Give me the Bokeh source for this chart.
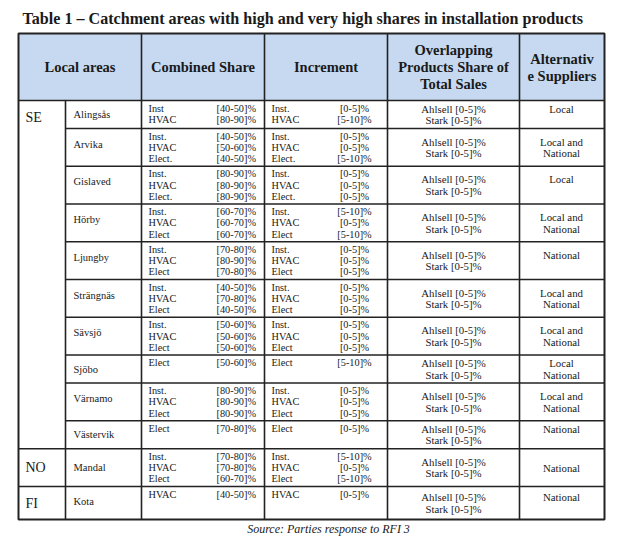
from bokeh.plotting import figure
from bokeh.models import ColumnDataSource, Range1d
from bokeh.embed import file_html
from bokeh.resources import INLINE
from bokeh.core.properties import value

# ---------------- data ----------------
title = "Table 1 – Catchment areas with high and very high shares in installation products"
source_note = "Source: Parties response to RFI 3"
headers = ["Local areas", "Combined Share", "Increment",
           "Overlapping\nProducts Share of\nTotal Sales", "Alternativ\ne Suppliers"]

countries = ["SE", "NO", "FI"]
area_country = ["SE", "SE", "SE", "SE", "SE", "SE", "SE", "SE", "SE", "SE", "NO", "FI"]
areas = ["Alingsås", "Arvika", "Gislaved", "Hörby", "Ljungby", "Strängnäs",
         "Sävsjö", "Sjöbo", "Värnamo", "Västervik", "Mandal", "Kota"]

combined_labels = [
    ["Inst", "HVAC"],
    ["Inst.", "HVAC", "Elect."],
    ["Inst.", "HVAC", "Elect."],
    ["Inst.", "HVAC", "Elect"],
    ["Inst.", "HVAC", "Elect"],
    ["Inst.", "HVAC", "Elect"],
    ["Inst.", "HVAC", "Elect"],
    ["Elect"],
    ["Inst.", "HVAC", "Elect"],
    ["Elect"],
    ["Inst.", "HVAC", "Elect"],
    ["HVAC"],
]
combined_values = [
    ["[40-50]%", "[80-90]%"],
    ["[40-50]%", "[50-60]%", "[40-50]%"],
    ["[80-90]%", "[80-90]%", "[80-90]%"],
    ["[60-70]%", "[60-70]%", "[60-70]%"],
    ["[70-80]%", "[80-90]%", "[70-80]%"],
    ["[40-50]%", "[70-80]%", "[40-50]%"],
    ["[50-60]%", "[50-60]%", "[50-60]%"],
    ["[50-60]%"],
    ["[80-90]%", "[80-90]%", "[80-90]%"],
    ["[70-80]%"],
    ["[70-80]%", "[70-80]%", "[60-70]%"],
    ["[40-50]%"],
]
increment_labels = [
    ["Inst.", "HVAC"],
    ["Inst.", "HVAC", "Elect."],
    ["Inst.", "HVAC", "Elect."],
    ["Inst.", "HVAC", "Elect"],
    ["Inst.", "HVAC", "Elect"],
    ["Inst.", "HVAC", "Elect"],
    ["Inst.", "HVAC", "Elect"],
    ["Elect"],
    ["Inst.", "HVAC", "Elect"],
    ["Elect"],
    ["Inst.", "HVAC", "Elect"],
    ["HVAC"],
]
increment_values = [
    ["[0-5]%", "[5-10]%"],
    ["[0-5]%", "[0-5]%", "[5-10]%"],
    ["[0-5]%", "[0-5]%", "[0-5]%"],
    ["[5-10]%", "[0-5]%", "[5-10]%"],
    ["[0-5]%", "[0-5]%", "[0-5]%"],
    ["[0-5]%", "[0-5]%", "[0-5]%"],
    ["[0-5]%", "[0-5]%", "[0-5]%"],
    ["[5-10]%"],
    ["[0-5]%", "[0-5]%", "[0-5]%"],
    ["[0-5]%"],
    ["[5-10]%", "[0-5]%", "[5-10]%"],
    ["[0-5]%"],
]
ahlsell_share = ["[0-5]%", "[0-5]%", "[0-5]%", "[0-5]%", "[0-5]%", "[0-5]%",
                 "[0-5]%", "[0-5]%", "[0-5]%", "[0-5]%", "[0-5]%", "[0-5]%"]
stark_share = ["[0-5]%", "[0-5]%", "[0-5]%", "[0-5]%", "[0-5]%", "[0-5]%",
               "[0-5]%", "[0-5]%", "[0-5]%", "[0-5]%", "[0-5]%", "[0-5]%"]
alternatives = ["Local", "Local and\nNational", "Local", "Local and\nNational",
                "National", "Local and\nNational", "Local and\nNational",
                "Local\nNational", "Local and\nNational", "National", "National",
                "National"]

# ---------------- layout (style) ----------------
W, H = 629, 540
FONT = "Liberation Serif"
INK = "#1a1a1a"
GRID = "#222222"
HEAD_FILL = "#c6d9f1"
X_LEFT, X_CNTRY, X_RIGHT = 18, 65, 604
COLS = [18, 141, 264, 387, 519, 604]
HEAD_TOP, HEAD_BOT = 33, 100
LINE = 11.3

p = figure(width=W, height=H, output_backend="svg", toolbar_location=None,
           x_range=Range1d(0, W), y_range=Range1d(H, 0),
           min_border=0, outline_line_color=None)
p.axis.visible = False
p.grid.visible = False
p.background_fill_color = "white"
p.border_fill_color = "white"

n_lines = [max(len(c), 2, len(a.split("\n"))) for c, a in zip(combined_labels, alternatives)]
row_h = [37.75 if n == 3 else 28 for n in n_lines]
row_h[-1] += 5
tops = [HEAD_BOT]
for h in row_h:
    tops.append(tops[-1] + h)
TABLE_BOT = tops[-1]

# header fill
p.quad(left=[X_LEFT], right=[X_RIGHT], top=[HEAD_TOP], bottom=[HEAD_BOT],
       fill_color=HEAD_FILL, line_color=None)

# grid lines
x0s, y0s, x1s, y1s = [], [], [], []
for x in COLS[1:-1]:
    x0s.append(x); x1s.append(x); y0s.append(HEAD_TOP); y1s.append(TABLE_BOT)
x0s.append(X_CNTRY); x1s.append(X_CNTRY); y0s.append(HEAD_BOT); y1s.append(TABLE_BOT)
x0s.append(X_LEFT); x1s.append(X_RIGHT); y0s.append(HEAD_BOT); y1s.append(HEAD_BOT)
for i in range(len(areas) - 1):
    y = tops[i + 1]
    start = X_CNTRY if area_country[i] == area_country[i + 1] else X_LEFT
    x0s.append(start); x1s.append(X_RIGHT); y0s.append(y); y1s.append(y)
p.segment(x0=x0s, y0=y0s, x1=x1s, y1=y1s, line_color=GRID, line_width=1.6)
# outer border
p.quad(left=[X_LEFT], right=[X_RIGHT], top=[HEAD_TOP], bottom=[TABLE_BOT],
       fill_color=None, line_color=GRID, line_width=2)


def add_text(xs, ys, texts, size, align="left", style="normal"):
    src = ColumnDataSource(dict(x=xs, y=ys, t=texts))
    p.text(x="x", y="y", text="t", source=src, text_font=value(FONT),
           text_font_size=size, text_align=align, text_baseline="middle",
           text_color=INK, text_font_style=style)


# title & source
add_text([22], [18], [title], "16.1px", "left", "bold")
add_text([328], [528], [source_note], "12px", "center", "italic")

# headers
hx, hy, ht = [], [], []
centers = [(COLS[i] + COLS[i + 1]) / 2 for i in range(len(COLS) - 1)]
mid = (HEAD_TOP + HEAD_BOT) / 2
for cx, txt in zip(centers, headers):
    parts = txt.split("\n")
    for k, part in enumerate(parts):
        hx.append(cx)
        hy.append(mid + (k - (len(parts) - 1) / 2) * 17)
        ht.append(part)
add_text(hx, hy, ht, "14.5px", "center", "bold")

# countries
cx_, cy_, ct_ = [], [], []
for c in countries:
    idx = [i for i, a in enumerate(area_country) if a == c]
    if len(idx) > 1:
        y = tops[idx[0]] + 16.5
    else:
        y = (tops[idx[0]] + tops[idx[-1] + 1]) / 2
    cx_.append(25); cy_.append(y); ct_.append(c)
add_text(cx_, cy_, ct_, "14px", "left")

# areas
ax_, ay_, at_ = [], [], []
for i, a in enumerate(areas):
    h = row_h[i]
    if area_country[i] == "SE":
        y = tops[i] + min(h / 2, 15.5)
    else:
        y = tops[i] + min(h / 2, 19.5) if n_lines[i] == 3 else tops[i] + 15
    ax_.append(73); ay_.append(y); at_.append(a)
add_text(ax_, ay_, at_, "10.5px")

# combined share & increment
lx, ly, lt = [], [], []
vx, vy, vt = [], [], []
ix, iy, it = [], [], []
for i in range(len(areas)):
    for k, (lab, val) in enumerate(zip(combined_labels[i], combined_values[i])):
        y = tops[i] + 7.5 + LINE * k
        lx.append(148); ly.append(y); lt.append(lab)
        vx.append(216); vy.append(y); vt.append(val)
    for k, (lab, val) in enumerate(zip(increment_labels[i], increment_values[i])):
        y = tops[i] + 7.5 + LINE * k
        lx.append(271); ly.append(y); lt.append(lab)
        ix.append(354); iy.append(y); it.append(val)
add_text(lx, ly, lt, "10.3px")
add_text(vx, vy, vt, "10.3px")
add_text(ix, iy, it, "10.3px", "center")

# overlapping & alternatives
ox, oy, ot = [], [], []
sx, sy, st = [], [], []
for i in range(len(areas)):
    m = tops[i] + row_h[i] / 2
    ox += [453, 453]
    oy += [m - LINE / 2, m + LINE / 2]
    ot += ["Ahlsell " + ahlsell_share[i], "Stark " + stark_share[i]]
    parts = alternatives[i].split("\n")
    for k, part in enumerate(parts):
        if area_country[i] == "NO":
            y = m
        else:
            y = m - LINE / 2 + LINE * k
        sx.append(561); sy.append(y); st.append(part)
add_text(ox, oy, ot, "10.8px", "center")
add_text(sx, sy, st, "10.8px", "center")

open("out.html", "w").write(file_html(p, INLINE))
